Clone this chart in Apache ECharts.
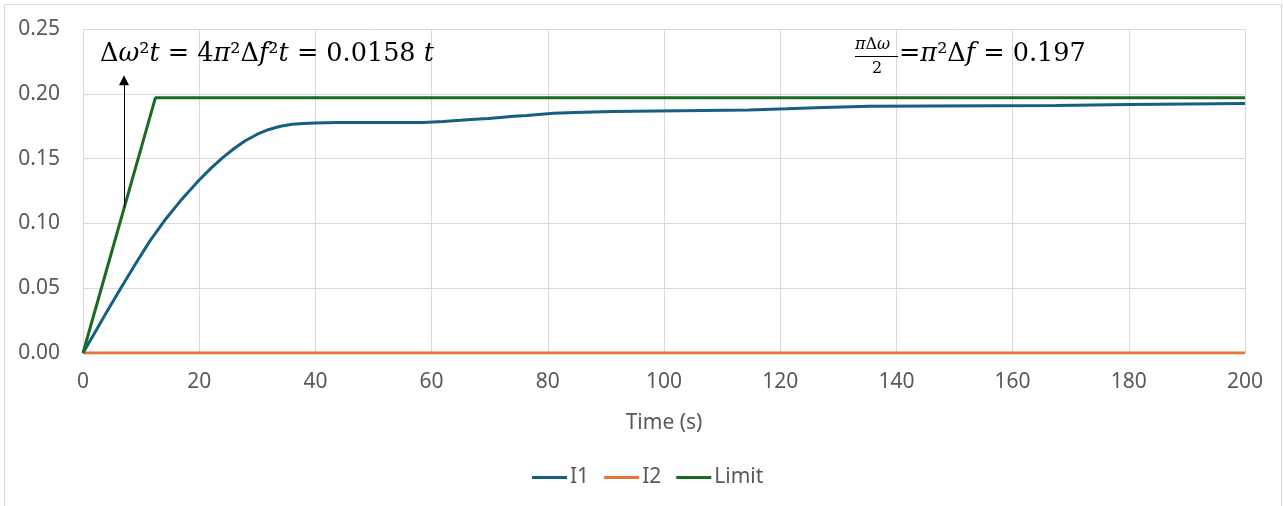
<!DOCTYPE html>
<html>
<head>
<meta charset="utf-8">
<script src="https://cdn.jsdelivr.net/npm/echarts@6/dist/echarts.min.js"></script>
<style>
html,body{margin:0;padding:0;background:#fff;}
#chart{width:1283px;height:506px;}
</style>
</head>
<body>
<div id="chart"></div>
<script>
// ---- data ----
const xTicks = [0, 20, 40, 60, 80, 100, 120, 140, 160, 180, 200];
const yTicks = ['0.00', '0.05', '0.10', '0.15', '0.20', '0.25'];

// I1: smooth rise
const I1_time  = [0, 2, 4, 6.5, 9, 11.5, 14, 16.7, 20, 22, 24, 26, 28, 30, 32, 34, 36, 38, 40, 43.9];
const I1_value = [0, 0.0155, 0.031, 0.050, 0.0685, 0.0863, 0.102, 0.117, 0.1335, 0.1425, 0.1505, 0.1578, 0.164, 0.1688, 0.1725, 0.175, 0.1765, 0.1771, 0.1775, 0.1779];
// I1: staircase tail (step start times and levels)
const I1_stepTime  = [58.6, 62.0, 64.9, 67.5, 69.8, 71.8, 74.1, 76.4, 78.4, 81.0, 84.7, 91.0, 114.6, 121.1, 127.4, 135.4, 167.5, 180.1];
const I1_stepValue = [0.1787, 0.1795, 0.1803, 0.1810, 0.1818, 0.1826, 0.1833, 0.1841, 0.1849, 0.1856, 0.1864, 0.1875, 0.1885, 0.1895, 0.1903, 0.1910, 0.1918, 0.1926];
const I1_endTime = 200;

const I2_time  = [0, 200];
const I2_value = [0, 0];

const limit_time  = [0, 12.47, 200];
const limit_value = [0, 0.197, 0.197];

// arrow annotation (data coords)
const arrowX = 7.06, arrowY0 = 0.1125, arrowY1 = 0.2105;

// ---- build series data ----
const I1 = I1_time.map((t, i) => [t, I1_value[i]]);
let prev = I1_value[I1_value.length - 1];
I1_stepTime.forEach((t, i) => { I1.push([t, prev]); I1.push([t, I1_stepValue[i]]); prev = I1_stepValue[i]; });
I1.push([I1_endTime, prev]);
const I2 = I2_time.map((t, i) => [t, I2_value[i]]);
const LIM = limit_time.map((t, i) => [t, limit_value[i]]);

const FONT = 'Noto Sans';
const MATH = 'DejaVu Serif';
const chart = echarts.init(document.getElementById('chart'), null, {renderer: 'canvas'});
const u = {fontFamily: MATH, fontSize: 25.5, fill: '#000'};
const it = {fontFamily: MATH, fontSize: 25.5, fontStyle: 'italic', fill: '#000'};
const us = {fontFamily: MATH, fontSize: 16, fill: '#000'};
const is = {fontFamily: MATH, fontSize: 16, fontStyle: 'italic', fill: '#000'};
chart.setOption({
  animation: false,
  backgroundColor: '#fff',
  grid: {left: 83, right: 38, top: 29, bottom: 153},
  xAxis: {
    type: 'value', min: 0, max: 200, interval: 20,
    axisLine: {show: false}, axisTick: {show: false},
    splitLine: {show: true, lineStyle: {color: '#d9d9d9', width: 1}},
    axisLabel: {color: '#595959', fontSize: 21, fontFamily: FONT, margin: 19,
      formatter: v => xTicks.includes(v) ? String(v) : ''},
    name: 'Time (s)', nameLocation: 'middle', nameGap: 60,
    nameTextStyle: {color: '#595959', fontSize: 21, fontFamily: FONT}
  },
  yAxis: {
    type: 'value', min: 0, max: 0.25, interval: 0.05,
    axisLine: {show: false}, axisTick: {show: false},
    splitLine: {show: true, lineStyle: {color: '#d9d9d9', width: 1}},
    axisLabel: {color: '#595959', fontSize: 21, fontFamily: FONT, margin: 23,
      formatter: v => yTicks[Math.round(v / 0.05)]}
  },
  legend: {
    top: 462, left: 527,
    itemWidth: 35, itemHeight: 3, itemGap: 15, icon: 'rect',
    textStyle: {color: '#595959', fontSize: 21, fontFamily: FONT, padding: [0, 0, 0, -2]},
    data: ['I1', 'I2', 'Limit']
  },
  series: [
    {name: 'I1', type: 'line', data: I1, showSymbol: false, symbol: 'none',
      lineStyle: {color: '#156082', width: 3}, itemStyle: {color: '#156082'}, z: 3},
    {name: 'I2', type: 'line', data: I2, showSymbol: false, symbol: 'none',
      lineStyle: {color: '#E97132', width: 3}, itemStyle: {color: '#E97132'}, z: 2},
    {name: 'Limit', type: 'line', data: LIM, showSymbol: false, symbol: 'none',
      lineStyle: {color: '#196B24', width: 3}, itemStyle: {color: '#196B24'}, z: 4,
      markLine: {
        silent: true, symbol: ['none', 'triangle'], symbolSize: 10,
        label: {show: false},
        lineStyle: {color: '#000', width: 1, type: 'solid'},
        itemStyle: {color: '#000'},
        data: [[{coord: [arrowX, arrowY0]}, {coord: [arrowX, arrowY1]}]]
      }}
  ],
  graphic: [
    {type: 'rect', shape: {x: 4.5, y: 4.5, width: 1277, height: 520},
      style: {fill: 'none', stroke: '#d9d9d9', lineWidth: 1}, silent: true},
    {type: 'text', left: 100, top: 41, z: 10,
      style: {text: '{u|Δ}{i|ω}{u|²}{i|t}{u| = 4}{i|π}{u|²Δ}{i|f}{u|²}{i|t}{u| = 0.0158 }{i|t}',
        rich: {u: u, i: it}}},
    {type: 'text', left: 855, top: 37, z: 10,
      style: {text: '{i|π}{u|Δ}{i|ω}', rich: {u: us, i: is}}},
    {type: 'line', shape: {x1: 855, y1: 56.5, x2: 898, y2: 56.5}, style: {stroke: '#000', lineWidth: 1}, z: 10},
    {type: 'text', left: 872, top: 61, z: 10,
      style: {text: '2', fontFamily: MATH, fontSize: 16, fill: '#000'}},
    {type: 'text', left: 899, top: 41, z: 10,
      style: {text: '{u|=}{i|π}{u|²Δ}{i|f}{u| = 0.197}', rich: {u: u, i: it}}}
  ]
});
</script>
</body>
</html>
